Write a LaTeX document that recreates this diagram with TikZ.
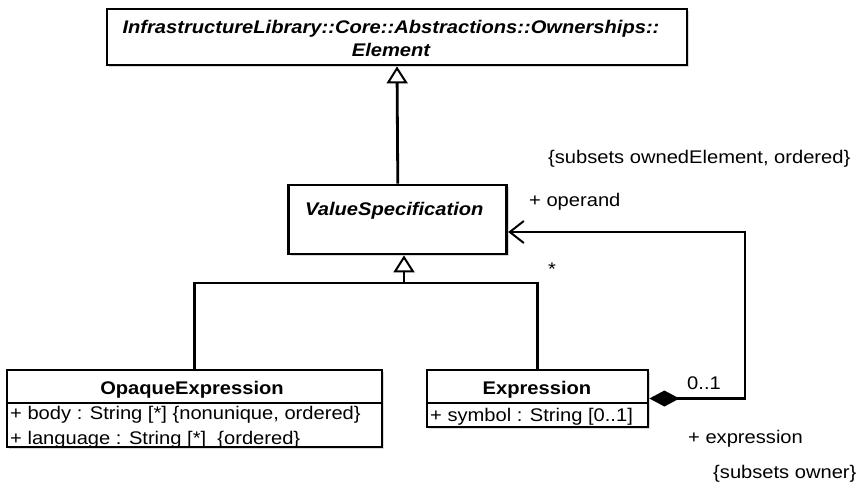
\documentclass[tikz,border=0pt]{standalone}
\usepackage{fontspec}
\setmainfont{Liberation Sans}[FakeStretch=1.1]
\usetikzlibrary{arrows.meta,shadows}
\newcommand\umlfont{\fontsize{18.3pt}{23pt}\selectfont}
\begin{document}
\begin{tikzpicture}[x=1pt,y=-1pt,
  cls/.style={draw=black, fill=white, line width=2.8pt, inner sep=0pt,
    drop shadow={shadow xshift=2pt, shadow yshift=-2pt, opacity=0.3}},
  lbl/.style={font=\umlfont, inner sep=0pt, text height=14pt, text depth=1pt},
  conn/.style={line width=2.8pt},
  genarrow/.style={conn, -{Triangle[open, length=17pt, width=21pt, line width=2pt]}},
  comp/.style={conn, {Diamond[length=30pt, width=16pt]}-{Straight Barb[length=14pt, width=22pt, line width=2pt]}}
]
\useasboundingbox (0,0) rectangle (858,482);

% class boxes
\node[cls, minimum width=580pt, minimum height=56pt] (elem) at (397,37) {};
\node[cls, minimum width=218pt, minimum height=69pt] (vs) at (397.8,219.5) {};
\node[cls, minimum width=375pt, minimum height=77pt] (opq) at (194.5,408.5) {};
\node[cls, minimum width=221pt, minimum height=57pt] (expr) at (537.5,398.5) {};

% compartment dividers
\draw[conn] (opq.west |- 0,403) -- (opq.east |- 0,403);
\draw[conn] (expr.west |- 0,403) -- (expr.east |- 0,403);

% class names
\node[font=\umlfont\bfseries\itshape, inner sep=0pt, align=center] (elemt) at (391,38.3)
  {InfrastructureLibrary::Core::Abstractions::Ownerships::\\Element};
\node[lbl, font=\umlfont\bfseries\itshape, anchor=west] (vst) at (305,209) {ValueSpecification};
\node[lbl, font=\umlfont\bfseries] (opqt) at (192,388) {OpaqueExpression};
\node[lbl, font=\umlfont\bfseries] (exprt) at (537,388) {Expression};

% attributes
\node[lbl, anchor=west] (body) at (10,413) {+ body : String [*] \{nonunique, ordered\}};
\node[lbl, anchor=west] (lang) at (10,438) {+ language : String [*] \ \{ordered\}};
\node[lbl, anchor=west] (sym) at (430,415) {+ symbol : String [0..1]};

% generalizations
\draw[genarrow] (vs.north) -- (elem.south);
\coordinate (busj) at (404,283);
\draw[conn] (opq.north) |- (busj) -| (expr.north);
\draw[genarrow] (busj) -- (busj |- vs.south);

% composition
\coordinate (cr) at (745,398.5);
\coordinate (ct) at (745,232);
\draw[comp] (expr.east) -- (cr) -- (ct) -- (ct -| vs.east);

% association labels
\node[lbl, anchor=west] (sub1) at (548,157) {\{subsets ownedElement, ordered\}};
\node[lbl, anchor=west] (oper) at (529,200) {+ operand};
\node[lbl, anchor=west] (star) at (548,269) {*};
\node[lbl, anchor=west] (mult) at (687,383) {0..1};
\node[lbl, anchor=west] (exlab) at (688,437) {+ expression};
\node[lbl, anchor=west] (sub2) at (713,472) {\{subsets owner\}};
\end{tikzpicture}
\end{document}
